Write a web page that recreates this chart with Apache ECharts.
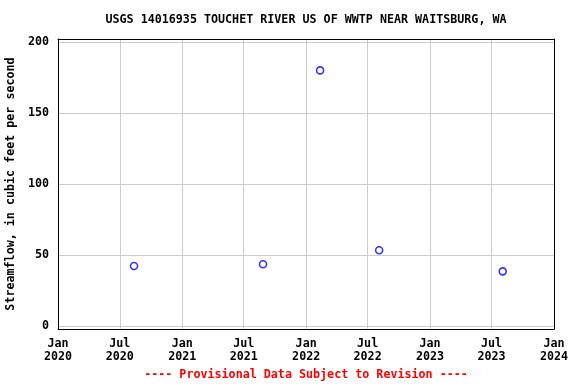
<!DOCTYPE html>
<html>
<head>
<meta charset="utf-8">
<script src="https://cdn.jsdelivr.net/npm/echarts@6/dist/echarts.min.js"></script>
<style>html,body{margin:0;padding:0;background:#fff}#c{width:576px;height:384px}</style>
</head>
<body>
<div id="c"></div>
<script>
const title = 'USGS 14016935 TOUCHET RIVER US OF WWTP NEAR WAITSBURG, WA';
const footer = '---- Provisional Data Subject to Revision ----';
const yName = 'Streamflow, in cubic feet per second';
const dates = ['2020-08-12', '2021-08-27', '2022-02-11', '2022-08-04', '2023-08-03'];
const flows = [42.3, 43.5, 180, 53.3, 38.5];
const yTicks = [0, 50, 100, 150, 200];
const xTickDates = ['2020-01-01','2020-07-01','2021-01-01','2021-07-01','2022-01-01','2022-07-01','2023-01-01','2023-07-01','2024-01-01'];
const monthNames = ['Jan','Feb','Mar','Apr','May','Jun','Jul','Aug','Sep','Oct','Nov','Dec'];

const ts = s => Date.parse(s + 'T00:00:00Z');
const xTicks = xTickDates.map(ts);
const font = '"DejaVu Sans Mono", monospace';
const fs = 11.7;
const frameLine = {show: true, onZero: false, lineStyle: {color: '#000', width: 1}};

const chart = echarts.init(document.getElementById('c'), null, {renderer: 'canvas'});
chart.setOption({
  animation: false,
  backgroundColor: '#fff',
  graphic: [
    {type: 'text', x: 306, y: 20, style: {text: title, align: 'center', verticalAlign: 'middle',
      font: 'bold ' + fs + 'px ' + font, fill: '#000'}},
    {type: 'text', x: 306, y: 375, style: {text: footer, align: 'center', verticalAlign: 'middle',
      font: 'bold ' + fs + 'px ' + font, fill: '#ff0000'}}
  ],
  grid: {left: 58, right: 22, top: 39, bottom: 55, show: false, containLabel: false, outerBoundsMode: 'none'},
  xAxis: [{
    type: 'value', position: 'bottom',
    min: xTicks[0], max: xTicks[xTicks.length - 1],
    axisLine: frameLine,
    axisTick: {show: false, customValues: xTicks},
    splitLine: {show: true, lineStyle: {color: '#cccccc', width: 1}},
    axisLabel: {
      customValues: xTicks,
      margin: 8,
      fontFamily: font, fontSize: fs, fontWeight: 'bold', color: '#000', lineHeight: 13,
      formatter: v => { const d = new Date(v); return monthNames[d.getUTCMonth()] + '\n' + d.getUTCFullYear(); }
    }
  }, {
    type: 'value', position: 'top',
    min: xTicks[0], max: xTicks[xTicks.length - 1],
    axisLine: frameLine, axisTick: {show: false}, axisLabel: {show: false}, splitLine: {show: false}
  }],
  yAxis: [{
    type: 'value', position: 'left',
    min: -2.1, max: 202.1,
    name: yName, nameLocation: 'middle', nameGap: 36,
    nameTextStyle: {fontFamily: font, fontSize: fs, fontWeight: 'bold', color: '#000'},
    axisLine: frameLine,
    axisTick: {show: false, customValues: yTicks},
    splitLine: {show: true, lineStyle: {color: '#cccccc', width: 1}},
    axisLabel: {customValues: yTicks, margin: 9, fontFamily: font, fontSize: fs, fontWeight: 'bold', color: '#000'}
  }, {
    type: 'value', position: 'right',
    min: -2.1, max: 202.1,
    axisLine: frameLine, axisTick: {show: false}, axisLabel: {show: false}, splitLine: {show: false}
  }],
  series: [{
    type: 'scatter',
    xAxisIndex: 0, yAxisIndex: 0,
    data: dates.map((d, i) => [ts(d), flows[i]]),
    symbol: 'circle', symbolSize: 7,
    itemStyle: {color: 'rgba(0,0,0,0)', borderColor: '#0000ff', borderWidth: 1.6}
  }]
});
</script>
</body>
</html>
